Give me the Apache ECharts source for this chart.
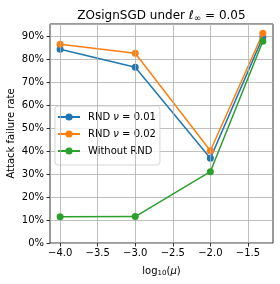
<!DOCTYPE html>
<html><head><meta charset="utf-8">
<script src="https://cdn.jsdelivr.net/npm/echarts@6/dist/echarts.min.js"></script>
<style>html,body{margin:0;padding:0;background:#fff}#c{width:280px;height:284px}</style>
</head><body><div id="c"></div>
<script>
const xValues = [-4.0, -3.0, -2.0, -1.301];
const rnd001 = [0.842, 0.764, 0.368, 0.895];
const rnd002 = [0.864, 0.825, 0.401, 0.912];
const withoutRnd = [0.114, 0.115, 0.31, 0.877];
const seriesNames = ['RND ν = 0.01', 'RND ν = 0.02', 'Without RND'];
const colors = ['#1f77b4', '#ff7f0e', '#2ca02c'];
const xTicks = [-4.0, -3.5, -3.0, -2.5, -2.0, -1.5];
const FONT = 'DejaVu Sans';

const chart = echarts.init(document.getElementById('c'), null, {renderer: 'canvas'});
function mk(vals){ return xValues.map((x,i)=>[x, vals[i]]); }
const all = [rnd001, rnd002, withoutRnd];
const series = all.map((v,i)=>({
  name: seriesNames[i], type: 'line', data: mk(v), symbol: 'circle', symbolSize: 7,
  lineStyle: {width: 1.5, color: colors[i]}, itemStyle: {color: colors[i]},
  z: 3 + i, animation: false
}));
series.unshift({
  type: 'line', data: [], silent: true, z: 1,
  markLine: {silent: true, symbol: 'none', label: {show: false}, animation: false,
    lineStyle: {color: '#b0b0b0', width: 0.8, type: 'solid'},
    data: xTicks.map(t=>({xAxis: t}))}
});
chart.setOption({
  animation: false,
  backgroundColor: '#fff',
  color: colors,
  grid: {left: 50, right: 7, top: 24, bottom: 41, show: true, borderColor: '#000', borderWidth: 0.8, containLabel: false},
  xAxis: {
    type: 'value', min: -4.135, max: -1.166,
    axisLine: {show: false},
    axisTick: {show: true, customValues: xTicks, length: 3.5, lineStyle: {color: '#000', width: 0.8}},
    axisLabel: {customValues: xTicks, fontFamily: FONT, fontSize: 10, color: '#000', margin: 5,
      formatter: v => (v < 0 ? '\u2212' : '') + Math.abs(v).toFixed(1)},
    splitLine: {show: false}
  },
  yAxis: {
    type: 'value', min: 0, max: 0.952, interval: 0.1,
    axisLine: {show: false},
    axisTick: {show: true, length: 3.5, lineStyle: {color: '#000', width: 0.8}},
    axisLabel: {fontFamily: FONT, fontSize: 10, color: '#000', margin: 6, showMaxLabel: false,
      formatter: v => Math.round(v * 100) + '%'},
    splitLine: {show: true, lineStyle: {color: '#b0b0b0', width: 0.8}}
  },
  legend: {
    data: seriesNames, orient: 'vertical', left: 55, top: 106,
    itemWidth: 22, itemHeight: 9, itemGap: 7,
    padding: [6, 4, 9, 2],
    backgroundColor: 'rgba(255,255,255,0.8)', borderColor: '#cccccc', borderWidth: 0.8, borderRadius: 3,
    textStyle: {fontFamily: FONT, fontSize: 10, color: '#000', padding: [0, 0, 0, 3],
      rich: {i: {fontFamily: FONT, fontSize: 10, fontStyle: 'italic', color: '#000'}}},
    formatter: n => n.replace('ν', '{i|ν}')
  },
  graphic: [
    {type: 'text', x: 161.5, y: 8, style: {text: 'ZOsignSGD under {i|ℓ}{s|∞} = 0.05', font: '12px "DejaVu Sans"', fill: '#000', align: 'center',
      rich: {i: {fontFamily: FONT, fontSize: 12, fontStyle: 'italic'}, s: {fontFamily: FONT, fontSize: 9, verticalAlign: 'bottom', padding: [6,0,0,0]}}}},
    {type: 'text', x: 161.5, y: 266, style: {text: 'log{s|10}({i|μ})', font: '10px "DejaVu Sans"', fill: '#000', align: 'center',
      rich: {i: {fontFamily: FONT, fontSize: 10, fontStyle: 'italic'}, s: {fontFamily: FONT, fontSize: 7, padding: [4,0,0,0]}}}},
    {type: 'text', x: 11, y: 133.5, rotation: Math.PI/2, style: {text: 'Attack failure rate', font: '10px "DejaVu Sans"', fill: '#000', align: 'center', verticalAlign: 'middle'}}
  ],
  series: series
});
</script></body></html>
